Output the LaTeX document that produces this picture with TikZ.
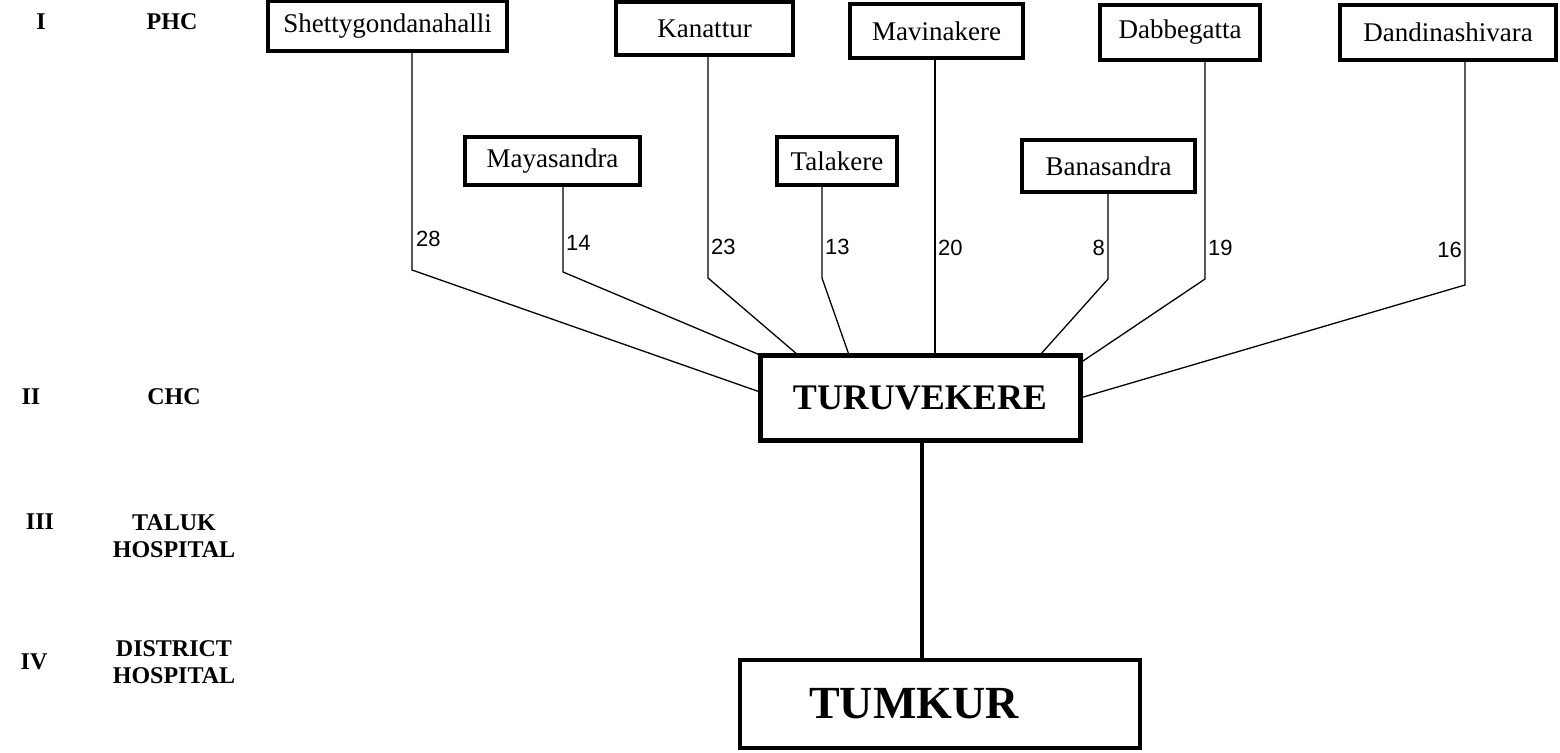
\documentclass[tikz,border=0pt]{standalone}
\usepackage{fontspec}
\setmainfont{Liberation Serif}
\newfontfamily\numfont{Liberation Sans}
\begin{document}
\begin{tikzpicture}[x=1pt,y=-1pt,
  phcbox/.style={draw, line width=4pt, fill=white, inner sep=0pt, outer sep=0pt,
    font=\fontsize{27}{30}\selectfont},
  bigbox/.style={draw, line width=5pt, fill=white, inner sep=0pt, outer sep=0pt},
  link/.style={line width=1.3pt},
  trunk/.style={line width=4pt},
  count/.style={inner sep=0pt, font=\numfont\fontsize{22}{24}\selectfont},
  level/.style={inner sep=0pt, align=center, font=\bfseries\fontsize{24}{27}\selectfont}]

\useasboundingbox (0,0) rectangle (1560,752);
\fill[white] (0,0) rectangle (1560,752);

% level labels on the left
\node[level] (l1)  at (41,22)   {I};
\node[level] (phc) at (172,22)  {PHC};
\node[level] (l2)  at (31,397)  {II};
\node[level] (chc) at (174,397) {CHC};
\node[level] (l3)  at (40,522)  {III};
\node[level] (tal) at (174,536) {TALUK\\HOSPITAL};
\node[level] (l4)  at (34,662)  {IV};
\node[level] (dis) at (174,662) {DISTRICT\\HOSPITAL};

% primary health centres, upper row
\node[phcbox, minimum width=239pt, minimum height=50pt] (sh) at (387.5,26)  {Shettygondanahalli};
\node[phcbox, minimum width=177pt, minimum height=53pt] (ka) at (704.5,28.5) {Kanattur};
\node[phcbox, minimum width=173pt, minimum height=54pt] (mv) at (936.5,31)  {Mavinakere};
\node[phcbox, minimum width=160pt, minimum height=55pt] (db) at (1180,32.5) {Dabbegatta};
\node[phcbox, minimum width=216pt, minimum height=55pt] (dn) at (1448,32.5) {Dandinashivara};

% primary health centres, lower row
\node[phcbox, minimum width=175pt, minimum height=48pt] (my) at (552.5,161) {Mayasandra};
\node[phcbox, minimum width=120pt, minimum height=48pt] (tl) at (837,161)   {Talakere};
\node[phcbox, minimum width=173pt, minimum height=52pt] (bn) at (1108.5,166) {Banasandra};

% community health centre and district hospital
\node[bigbox, minimum width=320pt, minimum height=85pt,
  font=\bfseries\fontsize{36}{40}\selectfont] (tv) at (920,397.5) {TURUVEKERE};
\node[bigbox, line width=4.5pt, minimum width=400pt, minimum height=88pt,
  font=\bfseries\fontsize{46}{50}\selectfont] (tk) at (940,704) {TUMKUR\hspace*{52pt}};

% bends of the connectors
\coordinate (k28) at (412,270);
\coordinate (k14) at (563,272);
\coordinate (k23) at (708,278);
\coordinate (k13) at (822,278);
\coordinate (k20) at (935,278);
\coordinate (k8)  at (1108,279);
\coordinate (k19) at (1205,279);
\coordinate (k16) at (1465,285);

% connectors from each PHC to the CHC
\draw[link] (sh.south -| k28) -- (k28) -- (tv.west |- 0,392);
\draw[link] (my.south -| k14) -- (k14) -- (tv.north west);
\draw[link] (ka.south -| k23) -- (k23) -- (tv.north -| 798,0);
\draw[link] (tl.south -| k13) -- (k13) -- (tv.north -| 849,0);
\draw[link] (mv.south -| k20) -- (tv.north -| k20);
\draw[link] (bn.south -| k8)  -- (k8)  -- (tv.north -| 1040,0);
\draw[link] (db.south -| k19) -- (k19) -- (tv.east |- 0,363);
\draw[link] (dn.south -| k16) -- (k16) -- (tv.east |- 0,398);

% CHC to district hospital
\draw[trunk] (tv.south -| 922,0) -- (tk.north -| 922,0);

% distances along the connectors
\node[count, anchor=west] (n28) at (416,239) {28};
\node[count, anchor=west] (n14) at (566,243) {14};
\node[count, anchor=west] (n23) at (711,247) {23};
\node[count, anchor=west] (n13) at (825,247) {13};
\node[count, anchor=west] (n20) at (938,248) {20};
\node[count, anchor=east] (n8)  at (1105,248) {8};
\node[count, anchor=west] (n19) at (1208,248) {19};
\node[count, anchor=east] (n16) at (1462,250) {16};
\end{tikzpicture}
\end{document}
